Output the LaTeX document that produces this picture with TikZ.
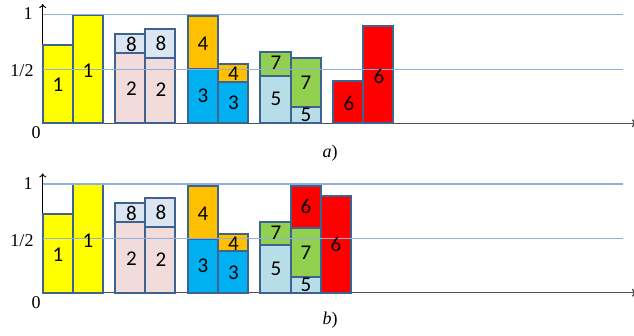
\documentclass[tikz,border=0pt]{standalone}
\usepackage{fontspec}
\usetikzlibrary{arrows.meta}
\setmainfont{Liberation Serif}
\newfontfamily\barfont{Carlito}
\definecolor{cYel}{HTML}{FFFF00}
\definecolor{cPink}{HTML}{F2DCDB}
\definecolor{cGray}{HTML}{DCE6F2}
\definecolor{cOra}{HTML}{FFC000}
\definecolor{cCyan}{HTML}{00B0F0}
\definecolor{cLBlue}{HTML}{B7DEE8}
\definecolor{cGreen}{HTML}{92D050}
\definecolor{cRed}{HTML}{FF0000}
\definecolor{cEdge}{HTML}{3F6390}
\definecolor{cGrid}{HTML}{8EB0DA}
\definecolor{cBase}{HTML}{505050}
\tikzset{
  barbox/.style={draw=cEdge, line width=2pt},
  gridline/.style={draw=cGrid, line width=1.3pt},
  baseline/.style={draw=cBase, line width=1.4pt},
  num/.style={font=\barfont\fontsize{21}{23}\selectfont, inner sep=0pt},
  axlab/.style={font=\fontsize{18}{20}\selectfont, inner sep=0pt},
  yax/.style={line width=0.9pt, -{To[length=4pt,width=7pt]}},
}
\begin{document}
\begin{tikzpicture}[x=1pt,y=-1pt]
\useasboundingbox (0,0) rectangle (634,335);
% ================= panel a =================
\begin{scope}[yshift=0pt]
\draw[baseline,-{To[length=4pt,width=8pt]}] (42.7,123.3) -- (636,123.3);
\draw[yax] (42.7,123.3) -- (42.7,4);
\draw[barbox,fill=cYel] (42.7,123.3) rectangle (72.7,45);
\draw[barbox,fill=cYel] (72.7,123.3) rectangle (103,14.7);
\draw[barbox,fill=cPink] (115,123.3) rectangle (145,52.7);
\draw[barbox,fill=cGray] (115,52.7) rectangle (145,34);
\draw[barbox,fill=cPink] (145,123.3) rectangle (175,57.7);
\draw[barbox,fill=cGray] (145,57.7) rectangle (175,28.7);
\draw[barbox,fill=cCyan] (188,123.3) rectangle (218,69.3);
\draw[barbox,fill=cOra] (188,69.3) rectangle (218,16.3);
\draw[barbox,fill=cCyan] (218,123.3) rectangle (248,81.7);
\draw[barbox,fill=cOra] (218,81.7) rectangle (248,64.3);
\draw[barbox,fill=cLBlue] (260,123.3) rectangle (291,75.7);
\draw[barbox,fill=cGreen] (260,75.7) rectangle (291,52.3);
\draw[barbox,fill=cLBlue] (291,123.3) rectangle (321,107.3);
\draw[barbox,fill=cGreen] (291,107.3) rectangle (321,58.3);
\draw[barbox,fill=cRed] (333,123.3) rectangle (363,80.7);
\draw[barbox,fill=cRed] (363,123.3) rectangle (393,26.3);
\draw[gridline] (42.7,14.7) -- (623,14.7);
\draw[gridline] (42.7,69.3) -- (623,69.3);
\node[num] (a1a) at (58,85) {1};
\node[num] (a1b) at (88,71) {1};
\node[num] (a2a) at (131.5,89) {2};
\node[num] (a8a) at (131.5,44) {8};
\node[num] (a2b) at (161,90) {2};
\node[num] (a8b) at (161,43) {8};
\node[num] (a4a) at (203,44) {4};
\node[num] (a3a) at (203,96) {3};
\node[num] (a4b) at (233.5,74) {4};
\node[num] (a3b) at (233.5,103) {3};
\node[num] (a7a) at (276,63) {7};
\node[num] (a5a) at (276,99) {5};
\node[num] (a7b) at (306,83) {7};
\node[num] (a5b) at (306,115) {5};
\node[num] (a6a) at (349,103) {6};
\node[num] (a6b) at (379,76) {6};
\node[axlab] (aone) at (28,14) {1};
\node[axlab] (ahalf) at (22,71) {1/2};
\node[axlab] (azero) at (36,133) {0};
\node[axlab] (acap) at (330,153) {\textit{a})};
\end{scope}
% ================= panel b =================
\begin{scope}[yshift=-169.4pt]
\draw[baseline,-{To[length=4pt,width=8pt]}] (42.7,123.3) -- (636,123.3);
\draw[yax] (42.7,123.3) -- (42.7,4);
\draw[barbox,fill=cYel] (42.7,123.3) rectangle (72.7,45);
\draw[barbox,fill=cYel] (72.7,123.3) rectangle (103,14.7);
\draw[barbox,fill=cPink] (115,123.3) rectangle (145,52.7);
\draw[barbox,fill=cGray] (115,52.7) rectangle (145,34);
\draw[barbox,fill=cPink] (145,123.3) rectangle (175,57.7);
\draw[barbox,fill=cGray] (145,57.7) rectangle (175,28.7);
\draw[barbox,fill=cCyan] (188,123.3) rectangle (218,69.3);
\draw[barbox,fill=cOra] (188,69.3) rectangle (218,16.3);
\draw[barbox,fill=cCyan] (218,123.3) rectangle (248,81.7);
\draw[barbox,fill=cOra] (218,81.7) rectangle (248,64.3);
\draw[barbox,fill=cLBlue] (260,123.3) rectangle (291,75.7);
\draw[barbox,fill=cGreen] (260,75.7) rectangle (291,52.3);
\draw[barbox,fill=cLBlue] (291,123.3) rectangle (321,107.3);
\draw[barbox,fill=cGreen] (291,107.3) rectangle (321,58.6);
\draw[barbox,fill=cRed] (291,58.6) rectangle (321,16.3);
\draw[barbox,fill=cRed] (321,123.3) rectangle (351,26.6);
\draw[gridline] (42.7,14.7) -- (623,14.7);
\draw[gridline] (42.7,69.3) -- (623,69.3);
\node[num] (b1a) at (58,85) {1};
\node[num] (b1b) at (88,71) {1};
\node[num] (b2a) at (131.5,89) {2};
\node[num] (b8a) at (131.5,44) {8};
\node[num] (b2b) at (161,90) {2};
\node[num] (b8b) at (161,43) {8};
\node[num] (b4a) at (203,44) {4};
\node[num] (b3a) at (203,96) {3};
\node[num] (b4b) at (233.5,74) {4};
\node[num] (b3b) at (233.5,103) {3};
\node[num] (b7a) at (276,63) {7};
\node[num] (b5a) at (276,99) {5};
\node[num] (b7b) at (306,83) {7};
\node[num] (b5b) at (306,115) {5};
\node[num] (b6a) at (306,37.5) {6};
\node[num] (b6b) at (336,75.5) {6};
\node[axlab] (bone) at (28,14) {1};
\node[axlab] (bhalf) at (22,71) {1/2};
\node[axlab] (bzero) at (36,133) {0};
\node[axlab] (bcap) at (330,151) {\textit{b})};
\end{scope}
\end{tikzpicture}
\end{document}
